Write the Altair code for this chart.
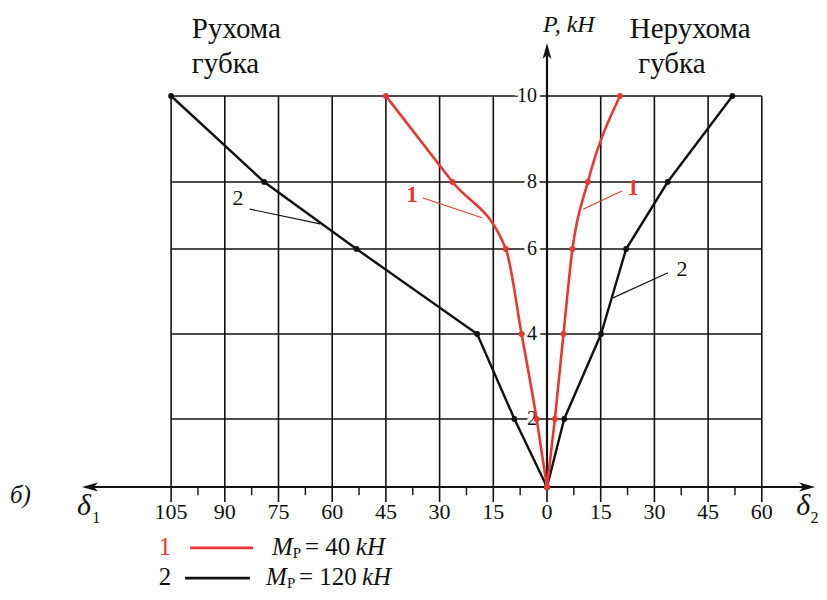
import altair as alt
import pandas as pd

FONT = "Liberation Serif"
RED = "#e8392f"
BLACK = "#111111"

# ---- data ----
P_LEVELS = [0, 2, 4, 6, 8, 10]
RED_LEFT = [0, 2.9, 7.1, 11.5, 26.4, 45]      # curve 1, movable jaw (delta1)
RED_RIGHT = [0, 2.2, 4.6, 7.1, 11.4, 20.4]    # curve 1, fixed jaw (delta2)
BLACK_LEFT = [0, 9.1, 19.5, 53.2, 79, 105]    # curve 2, movable jaw
BLACK_RIGHT = [0, 4.8, 15.1, 22.1, 33.7, 51.8]  # curve 2, fixed jaw

X_GRID = [-105, -90, -75, -60, -45, -30, -15, 15, 30, 45, 60]
X_TICKS = [-105, -90, -75, -60, -45, -30, -15, 0, 15, 30, 45, 60]
X_TICK_LABELS = ["105", "90", "75", "60", "45", "30", "15", "0", "15", "30", "45", "60"]
X_MINOR = [-97.5, -82.5, -67.5, -52.5, -37.5, -22.5, -7.5, 7.5, 22.5, 37.5, 52.5]
Y_GRID = [2, 4, 6, 8, 10]
Y_TICK_LABELS = ["2", "4", "6", "8", "10"]

X_SCALE = alt.Scale(domain=[-105, 60], range=[163.1, 753.8], nice=False, zero=False)
Y_SCALE = alt.Scale(domain=[-4, 0, 2, 4, 6, 8, 10, 14],
                    range=[615, 479, 411, 326, 241, 174, 88, -84],
                    nice=False, zero=False)


def X(f):
    return alt.X(f, type="quantitative", scale=X_SCALE, axis=None)


def Y(f):
    return alt.Y(f, type="quantitative", scale=Y_SCALE, axis=None)


def segs(rows):
    return pd.DataFrame(rows, columns=["x", "y", "x2", "y2"])


def rule_layer(df, color=BLACK, width=1.6):
    return alt.Chart(df).mark_rule(color=color, strokeWidth=width).encode(
        x=X("x"), y=Y("y"), x2=alt.X2("x2"), y2=alt.Y2("y2"))


def text_layer(df, size, color=BLACK, style="normal", align="left",
               baseline="alphabetic", weight="normal", dx=0, halo=False):
    kw = dict(font=FONT, fontSize=size, color=color, fontStyle=style, align=align,
              baseline=baseline, fontWeight=weight, dx=dx)
    if halo:
        kw.update(stroke="white", strokeWidth=7, color="white")
    return alt.Chart(df).mark_text(**kw).encode(x=X("x"), y=Y("y"), text="text:N")


def pts(rows):
    return pd.DataFrame(rows, columns=["x", "y", "text"])


# ---- grid, axes, ticks ----
grid_v = rule_layer(segs([[v, 0, v, 10] for v in X_GRID]), width=1.6)
grid_h = rule_layer(segs([[-105, p, 60, p] for p in Y_GRID]), width=1.6)
major_ticks = rule_layer(segs([[v, 0, v, -0.44] for v in X_TICKS]), width=1.6)
minor_ticks = rule_layer(segs([[v, 0, v, -0.24] for v in X_MINOR]), width=1.4)
x_axis = rule_layer(segs([[-127.5, 0, 72.5, 0]]), width=2.2)
y_axis = rule_layer(segs([[0, 0, 0, 10.95]]), width=2.2)

ARROW_R = "M0,0 L-2,-0.55 L-1.5,0 L-2,0.55 Z"
ARROW_L = "M0,0 L2,-0.55 L1.5,0 L2,0.55 Z"
ARROW_U = "M0,0 L-0.55,2 L0,1.5 L0.55,2 Z"


def arrow(x, y, shape):
    return alt.Chart(pd.DataFrame({"x": [x], "y": [y]})).mark_point(
        shape=shape, filled=True, size=256, color=BLACK, opacity=1, strokeWidth=0
    ).encode(x=X("x"), y=Y("y"))


arrows = [arrow(74.9, 0, ARROW_R), arrow(-129.9, 0, ARROW_L), arrow(0, 11.23, ARROW_U)]

# tick labels
xlab = text_layer(pts([[v, -0.94, t] for v, t in zip(X_TICKS, X_TICK_LABELS)]),
                  22, align="center")
ylab_df = pts([[0, p, t] for p, t in zip(Y_GRID, Y_TICK_LABELS)])
ylab_halo = text_layer(ylab_df, 20, align="right", baseline="middle", dx=-10, halo=True)
ylab = text_layer(ylab_df, 20, align="right", baseline="middle", dx=-10)

# ---- curves ----
rows = []
for side, sgn, red, blk in [("L", -1, RED_LEFT, BLACK_LEFT), ("R", 1, RED_RIGHT, BLACK_RIGHT)]:
    for p, r, b in zip(P_LEVELS, red, blk):
        rows.append({"side": side, "curve": "1", "x": sgn * r, "y": p})
        rows.append({"side": side, "curve": "2", "x": sgn * b, "y": p})
curves = pd.DataFrame(rows)
c1 = curves[curves.curve == "1"]
c2 = curves[curves.curve == "2"]

line2 = alt.Chart(c2).mark_line(color=BLACK, strokeWidth=2.4).encode(
    x=X("x"), y=Y("y"), detail="side:N", order="y:Q")
line1 = alt.Chart(c1).mark_line(color=RED, strokeWidth=2.6, interpolate="monotone").encode(
    x=X("x"), y=Y("y"), detail="side:N")
dots2 = alt.Chart(c2).mark_circle(color=BLACK, size=34, opacity=1).encode(x=X("x"), y=Y("y"))
dots1 = alt.Chart(c1).mark_circle(color=RED, size=34, opacity=1).encode(x=X("x"), y=Y("y"))

# ---- annotations ----
lead_black = rule_layer(segs([[-83.0, 7.19, -63.4, 6.75], [33.8, 5.44, 18.4, 4.85]]), width=1.1)
lead_red = rule_layer(segs([[-34.6, 7.52, -18.2, 6.93], [20.9, 7.73, 10.1, 7.19]]),
                      color=RED, width=1.1)
lab2 = text_layer(pts([[-86.3, 7.52, "2"], [37.7, 5.53, "2"]]), 22, align="center",
                  baseline="middle")
lab1 = text_layer(pts([[-37.7, 7.61, "1"], [24.0, 7.82, "1"]]), 23, color=RED,
                  align="center", baseline="middle", weight="bold")

titles = text_layer(pts([[-99.2, 11.35, "Рухома"], [-99.2, 10.53, "губка"]]), 29)
titles_r = text_layer(pts([[40.0, 11.35, "Нерухома"], [34.9, 10.53, "губка"]]), 29,
                      align="center")
p_title = text_layer(pts([[-1.1, 11.49, "P, kH"]]), 24, style="italic")
b_label = text_layer(pts([[-150.0, -0.47, "б)"]]), 25, style="italic")
deltas = text_layer(pts([[-131.3, -0.82, "δ"], [69.6, -0.82, "δ"]]), 30, style="italic")
delta_sub = text_layer(pts([[-127.0, -1.05, "1"], [73.6, -1.05, "2"]]), 16)

# ---- legend ----
R1, R2 = -2.0, -2.88         # baselines of the two legend rows
L1, L2 = -1.79, -2.68        # legend sample lines
LEG_FS = 25
leg_lines = alt.layer(
    rule_layer(segs([[-99.7, L1, -82.1, L1]]), color=RED, width=2.6),
    rule_layer(segs([[-101.1, L2, -83.0, L2]]), color=BLACK, width=2.6),
)
leg_num1 = text_layer(pts([[-106.7, R1, "1"]]), LEG_FS, color=RED, align="center")
leg_num2 = text_layer(pts([[-106.7, R2, "2"]]), LEG_FS, align="center")
leg_M = text_layer(pts([[-76.8, R1, "M"], [-78.5, R2, "M"]]), LEG_FS, style="italic")
leg_sub = text_layer(pts([[-71.0, R1 - 0.09, "Р"], [-72.6, R2 - 0.09, "Р"]]), 15)
leg_eq = text_layer(pts([[-67.6, R1, "= 40"], [-69.3, R2, "= 120"]]), LEG_FS)
leg_kh = text_layer(pts([[-53.4, R1, "kH"], [-51.7, R2, "kH"]]), LEG_FS, style="italic")

chart = alt.layer(
    grid_v, grid_h, major_ticks, minor_ticks, x_axis, y_axis, *arrows,
    ylab_halo, ylab, xlab,
    line2, line1, dots2, dots1,
    lead_black, lead_red, lab2, lab1,
    titles, titles_r, p_title, b_label, deltas, delta_sub,
    leg_lines, leg_num1, leg_num2, leg_M, leg_sub, leg_eq, leg_kh,
).properties(
    width=811, height=584, padding=0, autosize=alt.AutoSizeParams(type="none"),
    background="white"
).configure_view(stroke=None)

chart.save("out.html", embed_options={"renderer": "svg", "actions": False})
